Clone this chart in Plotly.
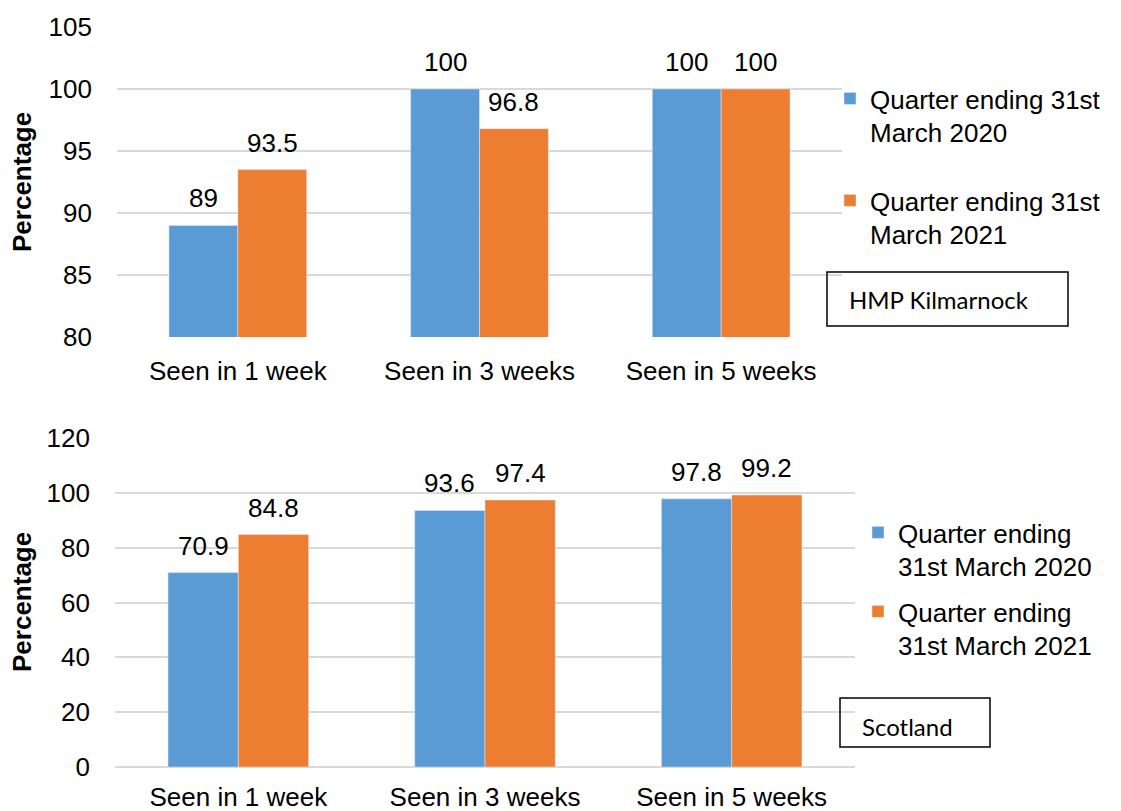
import plotly.graph_objects as go

# Categories and values
categories = ["Seen in 1 week", "Seen in 3 weeks", "Seen in 5 weeks"]
kilmarnock_2020 = [89, 100, 100]
kilmarnock_2021 = [93.5, 96.8, 100]
scotland_2020 = [70.9, 93.6, 97.8]
scotland_2021 = [84.8, 97.4, 99.2]

top_names = ["Quarter ending 31st<br>March 2020", "Quarter ending 31st<br>March 2021"]
bottom_names = ["Quarter ending<br>31st March 2020", "Quarter ending<br>31st March 2021"]

BLUE = "#5B9BD5"
ORANGE = "#ED7D31"
GRID = "#D9D9D9"
FONT = "Liberation Sans, Arial, sans-serif"
W, H = 1121, 811

def px(x):
    return x / W

def py(y):
    return 1 - y / H

fig = go.Figure()

fig.add_trace(go.Bar(x=categories, y=kilmarnock_2020, name=top_names[0], marker_color=BLUE,
                     xaxis="x", yaxis="y", legend="legend"))
fig.add_trace(go.Bar(x=categories, y=kilmarnock_2021, name=top_names[1], marker_color=ORANGE,
                     xaxis="x", yaxis="y", legend="legend2"))
fig.add_trace(go.Bar(x=categories, y=scotland_2020, name=bottom_names[0], marker_color=BLUE,
                     xaxis="x2", yaxis="y2", legend="legend3"))
fig.add_trace(go.Bar(x=categories, y=scotland_2021, name=bottom_names[1], marker_color=ORANGE,
                     xaxis="x2", yaxis="y2", legend="legend4"))

annotations = []
# value labels above each bar
OFF = 0.1425
for ax, series_pair in (("", (kilmarnock_2020, kilmarnock_2021)), ("2", (scotland_2020, scotland_2021))):
    for s_idx, series in enumerate(series_pair):
        shift = -OFF if s_idx == 0 else OFF
        for i, v in enumerate(series):
            annotations.append(dict(
                x=i + shift, y=v, xref="x" + ax, yref="y" + ax,
                text=f"{v:g}", showarrow=False, yanchor="middle", yshift=27,
                font=dict(family=FONT, size=26, color="#000000"),
            ))

# axis titles
for yc in (182, 602):
    annotations.append(dict(
        x=px(22), y=py(yc), xref="paper", yref="paper", text="<b>Percentage</b>",
        textangle=-90, showarrow=False, xanchor="center", yanchor="middle",
        font=dict(family=FONT, size=26, color="#000000"),
    ))

# boxed captions
annotations.append(dict(x=px(847), y=py(299), xref="paper", yref="paper", text="HMP Kilmarnock",
                        showarrow=False, xanchor="left", yanchor="middle",
                        font=dict(family="Lato, sans-serif", size=24, color="#000000")))
annotations.append(dict(x=px(860), y=py(726), xref="paper", yref="paper", text="Scotland",
                        showarrow=False, xanchor="left", yanchor="middle",
                        font=dict(family="Lato, sans-serif", size=24, color="#000000")))

shapes = [
    dict(type="rect", xref="paper", yref="paper", x0=px(827), x1=px(1068), y0=py(326), y1=py(272),
         line=dict(color="#000000", width=1.5), fillcolor="rgba(0,0,0,0)"),
    dict(type="rect", xref="paper", yref="paper", x0=px(840), x1=px(990), y0=py(747), y1=py(698),
         line=dict(color="#000000", width=1.5), fillcolor="rgba(0,0,0,0)"),
]

tickfont = dict(family=FONT, size=26, color="#000000")

def legend_at(x_left, y_top):
    return dict(x=px(x_left), y=py(y_top), xanchor="left", yanchor="top",
                font=dict(family=FONT, size=26, color="#000000"),
                bgcolor="rgba(0,0,0,0)", borderwidth=0, valign="top", itemwidth=30)

fig.update_layout(
    width=W, height=H,
    margin=dict(l=0, r=0, t=0, b=0, autoexpand=False),
    paper_bgcolor="white", plot_bgcolor="white",
    barmode="group", bargap=0.43, bargroupgap=0,
    showlegend=True,
    xaxis=dict(domain=[px(117), px(842)], anchor="y", tickfont=tickfont, showgrid=False,
               showline=False, ticks="", ticklabelstandoff=16, automargin=False),
    yaxis=dict(domain=[py(337), py(27)], anchor="x", range=[80, 105], dtick=5, tick0=80,
               tickfont=tickfont, gridcolor=GRID, gridwidth=1.5, showline=False, ticks="",
               zeroline=False, ticklabelstandoff=24, automargin=False),
    xaxis2=dict(domain=[px(115), px(855)], anchor="y2", tickfont=tickfont, showgrid=False,
                showline=False, ticks="", ticklabelstandoff=12, automargin=False),
    yaxis2=dict(domain=[py(767), py(438)], anchor="x2", range=[0, 120], dtick=20, tick0=0,
                tickfont=tickfont, gridcolor=GRID, gridwidth=1.5, showline=False, ticks="",
                zeroline=True, zerolinecolor=GRID, zerolinewidth=1.5, ticklabelstandoff=24,
                automargin=False),
    legend=legend_at(830, 75),
    legend2=legend_at(830, 177),
    legend3=legend_at(858, 509),
    legend4=legend_at(858, 588),
    annotations=annotations,
    shapes=shapes,
)

fig.write_html("out.html")
